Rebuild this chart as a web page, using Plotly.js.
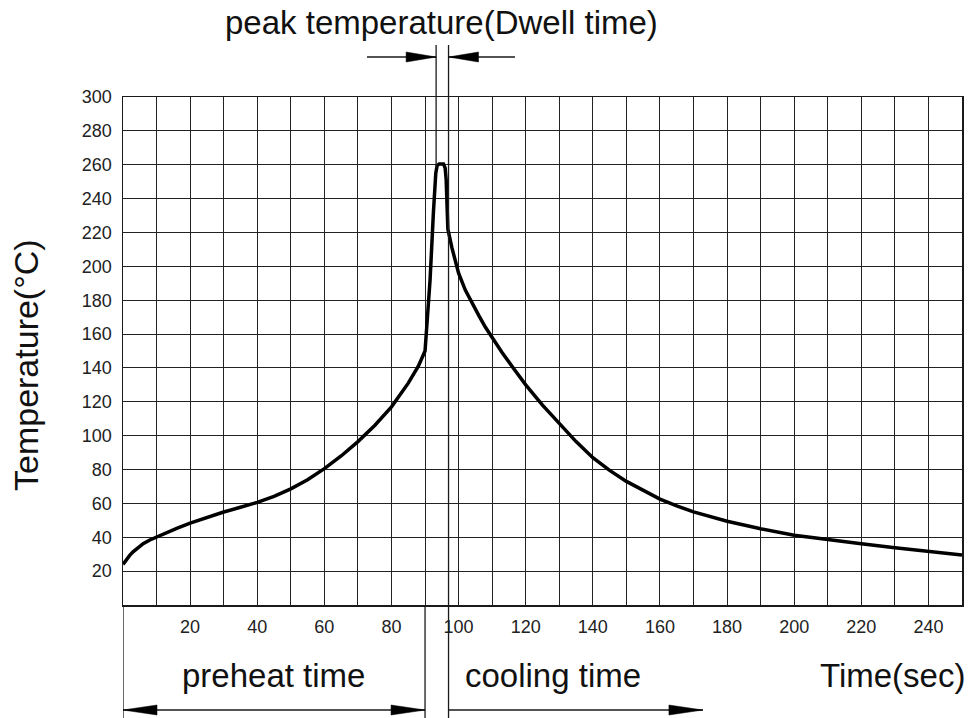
<!DOCTYPE html>
<html>
<head>
<meta charset="utf-8">
<script src="https://cdn.plot.ly/plotly-3.0.1.min.js"></script>
<style>
  html, body { margin: 0; padding: 0; background: #ffffff; }
  #chart { width: 969px; height: 718px; }
</style>
</head>
<body>
<div id="chart"></div>
<script>
// ---- data ----
const timeSec = [0, 1, 2, 3, 4, 6, 8, 10, 13, 16, 20, 25, 30, 35, 40, 45, 50, 55, 60, 65, 70, 75, 80, 85, 88, 90,
  91.5, 92.5, 93.2, 93.6, 94.2, 95.5, 96, 96.3, 96.8, 98, 99, 100, 102, 104, 106, 108, 110, 113, 117, 120, 125,
  130, 135, 140, 145, 150, 155, 160, 165, 170, 180, 190, 200, 210, 220, 230, 240, 250];
const tempC = [24, 26.8, 29.3, 31.4, 33.2, 36.2, 38.4, 40.2, 42.8, 45.2, 48.3, 51.8, 54.9, 57.7, 60.6, 64.2, 68.6, 74, 80.5, 88, 96.5, 106, 117, 131, 141, 150,
  192, 232, 255, 259.5, 260.5, 260.5, 258, 251, 222, 211, 203, 196, 186, 178, 171, 164, 158, 149, 138, 130, 118,
  107, 96.5, 87, 79.5, 73, 67.5, 62.5, 58.5, 55, 49.5, 45, 41.2, 38.5, 36.2, 33.8, 31.6, 29.5];

const xTickVals = [20, 40, 60, 80, 100, 120, 140, 160, 180, 200, 220, 240];
const xTickText = ["20", "40", "60", "80", "100", "120", "140", "160", "180", "200", "220", "240"];
const yTickVals = [20, 40, 60, 80, 100, 120, 140, 160, 180, 200, 220, 240, 260, 280, 300];
const yTickText = ["20", "40", "60", "80", "100", "120", "140", "160", "180", "200", "220", "240", "260", "280", "300"];

// phase boundaries (seconds)
const preheatEnd = 90;
const dwellStart = 93.3;
const dwellEnd = 97;
const coolingArrowEnd = 172.8;
const dwellArrowLeftStart = 72.7;
const dwellArrowRightStart = 116.8;
const peakTouch = 258;

const chartTitle = "peak temperature(Dwell time)";
const yTitle = "Temperature(°C)";
const xTitle = "Time(sec)";
const preheatLabel = "preheat time";
const coolingLabel = "cooling time";

// ---- layout helpers ----
const INK = "#1a1a1a";
const GRID = "#222222";
const FONT = "Liberation Sans, Arial, Helvetica, sans-serif";
const yMax = 300;
const topLineY = 1.1024;     // dwell lines top (paper)
const topArrowY = 1.0787;    // dwell arrows (paper)
const bottomLineY = -0.2224; // bottom of marker lines (paper)
const bottomArrowY = -0.2067;

function vline(x, y0, y1) {
  return { type: "line", xref: "x", yref: "paper", x0: x, x1: x, y0: y0, y1: y1,
           line: { color: INK, width: 1.3 }, layer: "above" };
}
function hline(xa, xb, y) {
  return { type: "line", xref: "x", yref: "paper", x0: xa, x1: xb, y0: y, y1: y,
           line: { color: INK, width: 1.3 }, layer: "above" };
}
function head(x, y, dir, len, half) {
  const l = -dir * len;
  return { type: "path", xref: "x", yref: "paper", xsizemode: "pixel", ysizemode: "pixel",
           xanchor: x, yanchor: y,
           path: "M 0 0 L " + l + " " + half + " L " + l + " " + (-half) + " Z",
           fillcolor: "#000", line: { color: "#000", width: 0.5 }, layer: "above" };
}

const shapes = [
  vline(0, 0, bottomLineY),
  vline(preheatEnd, 0, bottomLineY),
  vline(dwellEnd, topLineY, bottomLineY),
  vline(dwellStart, topLineY, peakTouch / yMax),
  hline(dwellArrowLeftStart, dwellStart, topArrowY),
  hline(dwellEnd, dwellArrowRightStart, topArrowY),
  head(dwellStart, topArrowY, 1, 30, 5),
  head(dwellEnd, topArrowY, -1, 30, 5),
  hline(0, preheatEnd, bottomArrowY),
  head(0, bottomArrowY, -1, 34, 5),
  head(preheatEnd, bottomArrowY, 1, 34, 5),
  hline(dwellEnd, coolingArrowEnd, bottomArrowY),
  head(coolingArrowEnd, bottomArrowY, 1, 34, 5)
];

const bigFont = { family: FONT, size: 33, color: "#111" };
const annotations = [
  { text: chartTitle, xref: "paper", yref: "paper", x: (441 - 123) / 839, y: (605 - 22) / 508,
    xanchor: "center", yanchor: "middle", showarrow: false, font: bigFont },
  { text: preheatLabel, xref: "paper", yref: "paper", x: (273 - 123) / 839, y: (605 - 675) / 508,
    xanchor: "center", yanchor: "middle", showarrow: false, font: bigFont },
  { text: coolingLabel, xref: "paper", yref: "paper", x: (553 - 123) / 839, y: (605 - 675) / 508,
    xanchor: "center", yanchor: "middle", showarrow: false, font: bigFont },
  { text: xTitle, xref: "paper", yref: "paper", x: (967 - 123) / 839, y: (605 - 675) / 508,
    xanchor: "right", yanchor: "middle", showarrow: false, font: bigFont },
  { text: yTitle, xref: "paper", yref: "paper", x: (26 - 123) / 839, y: (605 - 365) / 508,
    xanchor: "center", yanchor: "middle", textangle: -90, showarrow: false,
    font: { family: FONT, size: 34, color: "#111" } }
];

const trace = {
  x: timeSec, y: tempC, type: "scatter", mode: "lines",
  line: { color: "#000", width: 3.5, shape: "linear" },
  hoverinfo: "x+y", showlegend: false
};

const layout = {
  width: 969, height: 718,
  margin: { l: 123, r: 7, t: 97, b: 113, pad: 0 },
  paper_bgcolor: "#ffffff", plot_bgcolor: "#ffffff",
  font: { family: FONT, color: "#222" },
  showlegend: false,
  xaxis: {
    range: [0, 250], fixedrange: true,
    tickmode: "array", tickvals: xTickVals, ticktext: xTickText,
    ticks: "", ticklabelstandoff: 5,
    tickfont: { family: FONT, size: 18, color: "#222" },
    showgrid: true, gridcolor: GRID, gridwidth: 1,
    minor: { dtick: 10, tick0: 0, showgrid: true, gridcolor: GRID, gridwidth: 1 },
    showline: true, linecolor: INK, linewidth: 1.5, mirror: true, zeroline: false
  },
  yaxis: {
    range: [0, 300], fixedrange: true,
    tickmode: "array", tickvals: yTickVals, ticktext: yTickText,
    ticks: "", ticklabelstandoff: 6,
    tickfont: { family: FONT, size: 18, color: "#222" },
    showgrid: true, gridcolor: GRID, gridwidth: 1,
    showline: true, linecolor: INK, linewidth: 1.5, mirror: true, zeroline: false
  },
  shapes: shapes,
  annotations: annotations
};

Plotly.newPlot("chart", [trace], layout, { staticPlot: true, displayModeBar: false });
</script>
</body>
</html>
